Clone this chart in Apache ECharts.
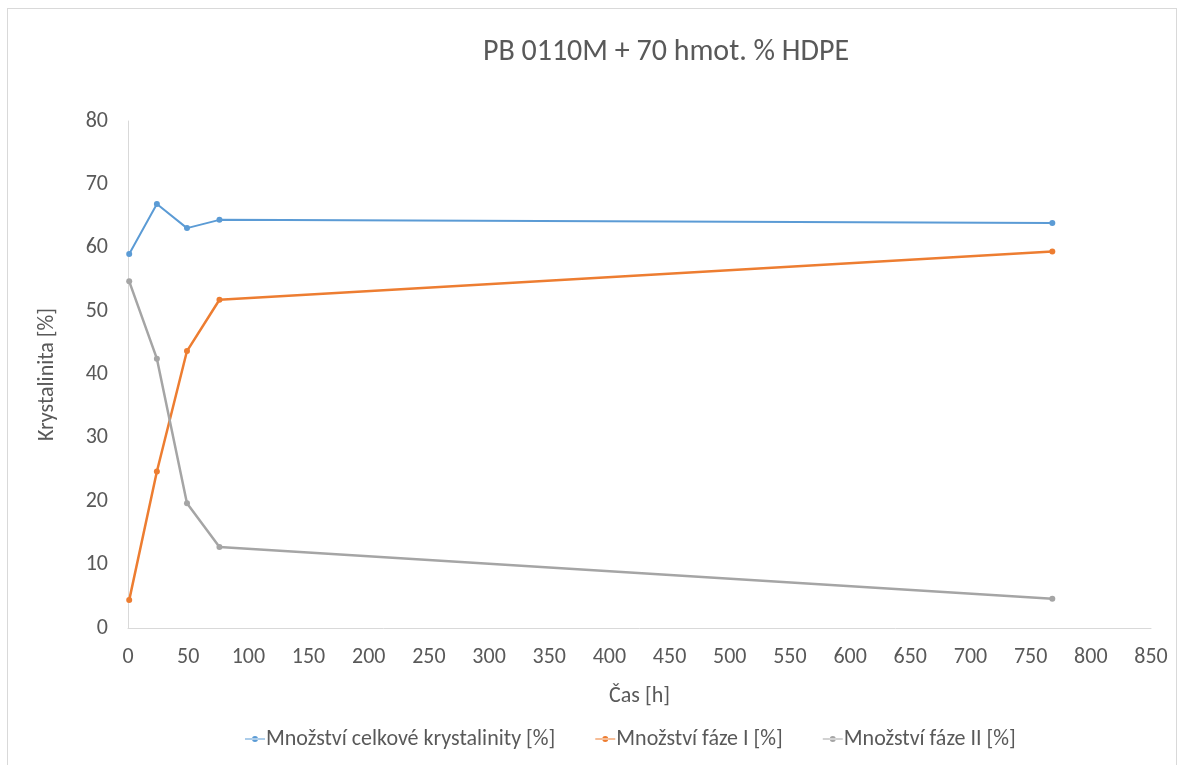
<!DOCTYPE html>
<html>
<head>
<meta charset="utf-8">
<script src="https://cdn.jsdelivr.net/npm/echarts@6/dist/echarts.min.js"></script>
<style>
html,body{margin:0;padding:0;background:#fff;}
#frame{position:absolute;left:7px;top:8px;width:1170px;height:770px;border:1px solid #d9d9d9;box-sizing:border-box;}
#chart{position:absolute;left:0;top:0;width:1180px;height:765px;}
</style>
</head>
<body>
<div id="frame"></div>
<div id="chart"></div>
<script>
const titleText = 'PB 0110M + 70 hmot. % HDPE';
const xName = 'Čas [h]';
const yName = 'Krystalinita [%]';
const seriesNames = ['Množství celkové krystalinity [%]', 'Množství fáze I [%]', 'Množství fáze II [%]'];
const seriesColors = ['#5b9bd5', '#ed7d31', '#a5a5a5'];
const times = [1, 24, 49, 76, 768];
const totalCryst = [59.0, 66.9, 63.1, 64.4, 63.9];
const phaseI = [4.4, 24.7, 43.7, 51.8, 59.4];
const phaseII = [54.7, 42.5, 19.7, 12.8, 4.6];
const seriesValues = [totalCryst, phaseI, phaseII];

const font = 'Calibri, Carlito, "Open Sans", "Liberation Sans", sans-serif';
const txt = '#595959';

const chart = echarts.init(document.getElementById('chart'), null, {renderer: 'canvas'});
chart.setOption({
  animation: false,
  title: {
    text: titleText, left: 661, top: 32, textAlign: 'center',
    textStyle: {fontFamily: font, fontSize: 30, fontWeight: 'normal', color: txt}
  },
  grid: {left: 128, right: 29, top: 121, bottom: 137, containLabel: false},
  legend: {
    bottom: 10, left: 240, itemGap: 40, itemWidth: 20, itemHeight: 8,
    icon: 'path://M0,4 L20,4 L20,5 L0,5 Z M10,4.5 m-3,0 a3,3 0 1,0 6,0 a3,3 0 1,0 -6,0',
    textStyle: {fontFamily: font, fontSize: 22, color: txt, padding: [0, 0, 0, -4]},
    data: seriesNames
  },
  xAxis: {
    type: 'value', min: 0, max: 850, interval: 50,
    name: xName, nameLocation: 'middle', nameGap: 57,
    nameTextStyle: {fontFamily: font, fontSize: 22, color: txt},
    axisLine: {show: true, lineStyle: {color: '#d9d9d9', width: 1}},
    axisTick: {show: false},
    splitLine: {show: false},
    axisLabel: {fontFamily: font, fontSize: 22, color: txt, margin: 18}
  },
  yAxis: {
    type: 'value', min: 0, max: 80, interval: 10,
    name: yName, nameLocation: 'middle', nameGap: 70, nameRotate: 90,
    nameTextStyle: {fontFamily: font, fontSize: 22, color: txt},
    axisLine: {show: true, lineStyle: {color: '#d9d9d9', width: 1}},
    axisTick: {show: false},
    splitLine: {show: false},
    axisLabel: {fontFamily: font, fontSize: 22, color: txt, margin: 20}
  },
  series: seriesNames.map((n, i) => ({
    name: n, type: 'line',
    data: times.map((t, j) => [t, seriesValues[i][j]]),
    symbol: 'circle', symbolSize: 6,
    itemStyle: {color: seriesColors[i]},
    lineStyle: {color: seriesColors[i], width: i === 0 ? 2 : 2.5}
  }))
});
</script>
</body>
</html>
